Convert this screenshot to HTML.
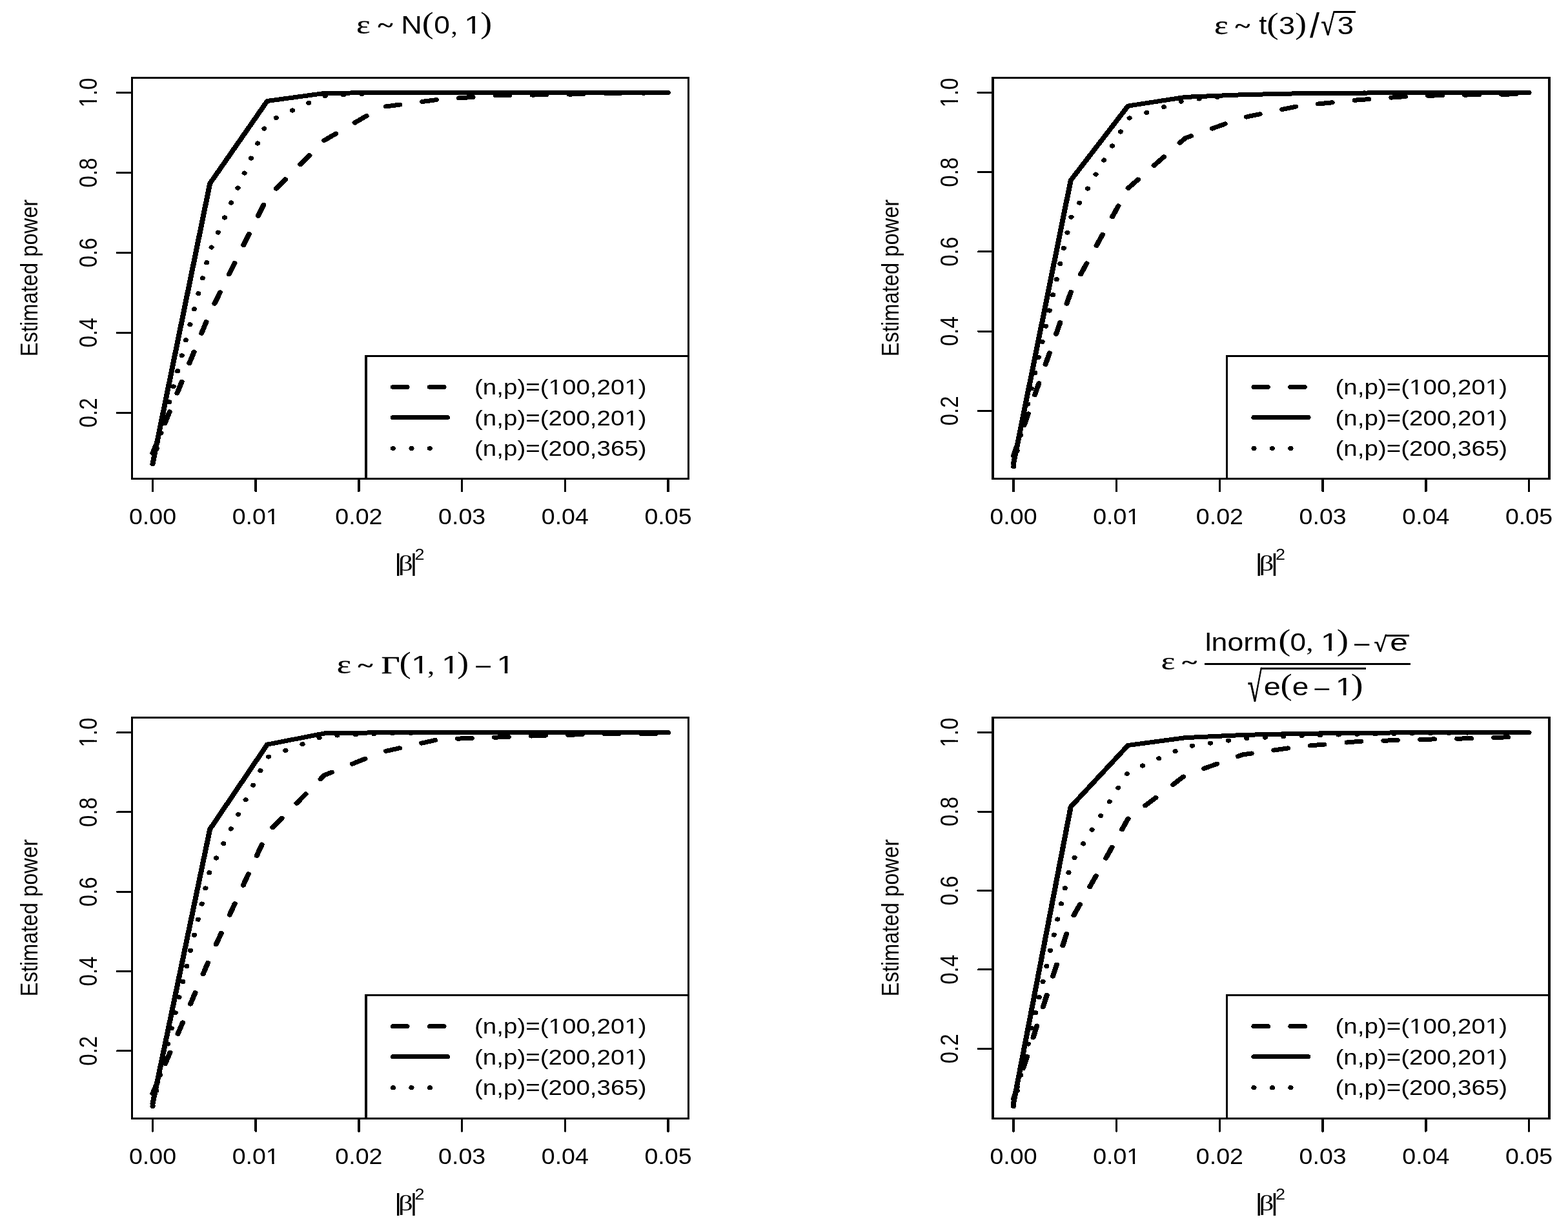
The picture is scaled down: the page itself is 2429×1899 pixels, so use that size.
<!DOCTYPE html>
<html lang="en"><head><meta charset="utf-8"><title>Estimated power</title>
<style>html,body{margin:0;padding:0;background:#fff}body{width:2429px;height:1899px;overflow:hidden}svg{display:block}</style>
</head><body>
<svg width="2429" height="1899" viewBox="0 0 2429 1899" role="img" aria-label="Estimated power curves for four error distributions">
<rect width="2429" height="1899" fill="#fff"/>
<defs><clipPath id="c1" clipPathUnits="userSpaceOnUse"><rect x="-34.00" y="-51.00" width="303.31" height="47.12"/><rect x="-34.00" y="-3.88" width="136.75" height="14.08"/><rect x="109.64" y="-3.88" width="3.00" height="14.08"/><rect x="119.26" y="-3.88" width="87.49" height="14.08"/><rect x="213.63" y="-3.88" width="3.00" height="14.08"/><rect x="223.25" y="-3.88" width="46.06" height="14.08"/><rect x="-34.00" y="10.20" width="303.31" height="34.00"/></clipPath><clipPath id="c2" clipPathUnits="userSpaceOnUse"><rect x="-34.00" y="-51.00" width="303.31" height="47.12"/><rect x="-34.00" y="-3.88" width="240.75" height="14.08"/><rect x="213.63" y="-3.88" width="3.00" height="14.08"/><rect x="223.25" y="-3.88" width="46.06" height="14.08"/><rect x="-34.00" y="10.20" width="303.31" height="34.00"/></clipPath><clipPath id="c3" clipPathUnits="userSpaceOnUse"><rect x="-67.48" y="-51.30" width="134.96" height="47.40"/><rect x="-67.48" y="-3.90" width="83.42" height="14.16"/><rect x="22.86" y="-3.90" width="3.02" height="14.16"/><rect x="32.54" y="-3.90" width="34.94" height="14.16"/><rect x="-67.48" y="10.26" width="134.96" height="34.20"/></clipPath><clipPath id="c4" clipPathUnits="userSpaceOnUse"><rect x="-55.94" y="-49.50" width="111.87" height="45.73"/><rect x="-55.94" y="-3.77" width="34.62" height="13.67"/><rect x="-14.64" y="-3.77" width="2.92" height="13.67"/><rect x="-5.30" y="-3.77" width="61.24" height="13.67"/><rect x="-55.94" y="9.90" width="111.87" height="33.00"/></clipPath><clipPath id="c5" clipPathUnits="userSpaceOnUse"><rect x="-100.00" y="-150.00" width="255.62" height="138.59"/><rect x="-100.00" y="-11.41" width="104.90" height="41.41"/><rect x="25.15" y="-11.41" width="8.84" height="41.41"/><rect x="53.45" y="-11.41" width="102.17" height="41.41"/><rect x="-100.00" y="30.00" width="255.62" height="100.00"/></clipPath></defs>
<g transform="scale(1.15667 1)" stroke="#000" fill="#000" shape-rendering="crispEdges" font-family='"Liberation Sans", sans-serif'>
<g stroke="none">
</g>
<g>
<polyline points="204.47,702 281.17,484.43 357.88,305.9 434.58,217.26 511.29,165.82 587.99,154.04 664.7,147.84 741.4,146.6 818.11,144.74 894.81,143.5" fill="none" stroke-width="7" stroke-linecap="round" stroke-linejoin="round" stroke-dasharray="18.7 30.56"/>
<polyline points="204.47,718.3 281.17,284.21 357.88,156.52 434.58,144.43 511.29,143.5 587.99,143.5 664.7,143.5 741.4,143.5 818.11,143.5 894.81,143.5" fill="none" stroke-width="7" stroke-linecap="round" stroke-linejoin="round"/>
<polyline points="204.47,718.73 281.17,388.35 357.88,188.75 434.58,148.46 511.29,143.81 587.99,143.5 664.7,143.5 741.4,143.5 818.11,143.5 894.81,143.5" fill="none" stroke-width="7" stroke-linecap="round" stroke-linejoin="round" stroke-dasharray="0.1 24.53"/>
<rect x="490.2" y="551.5" width="431.84" height="189.8" fill="#fff" stroke-width="3"/>
<line x1="526.43" y1="599.5" x2="599.14" y2="599.5" stroke-width="7" stroke-linecap="round" stroke-dasharray="18.7 30.56"/>
<line x1="526.43" y1="646.6" x2="599.14" y2="646.6" stroke-width="7" stroke-linecap="round"/>
<line x1="526.43" y1="694.5" x2="599.14" y2="694.5" stroke-width="7" stroke-linecap="round" stroke-dasharray="0.1 24.53"/>
<text stroke="none" transform="translate(635.45 611.2) scale(0.98 1)" font-size="34" text-anchor="start" clip-path="url(#c1)">(n,p)=(100,201)</text>
<text stroke="none" transform="translate(635.45 658.5) scale(0.98 1)" font-size="34" text-anchor="start" clip-path="url(#c2)">(n,p)=(200,201)</text>
<text stroke="none" transform="translate(635.45 705.9) scale(0.98 1)" font-size="34" text-anchor="start">(n,p)=(200,365)</text>
<rect x="176.8" y="120.5" width="745.24" height="620.8" fill="none" stroke-width="3"/>
<line x1="204.47" y1="743.3" x2="204.47" y2="761" stroke-width="3" stroke-linecap="round"/>
<text stroke="none" transform="translate(204.47 812.2) scale(0.95 1)" font-size="34.2" text-anchor="middle">0.00</text>
<line x1="342.54" y1="743.3" x2="342.54" y2="761" stroke-width="3" stroke-linecap="round"/>
<text stroke="none" transform="translate(342.54 812.2) scale(0.95 1)" font-size="34.2" text-anchor="middle" clip-path="url(#c3)">0.01</text>
<line x1="480.61" y1="743.3" x2="480.61" y2="761" stroke-width="3" stroke-linecap="round"/>
<text stroke="none" transform="translate(480.61 812.2) scale(0.95 1)" font-size="34.2" text-anchor="middle">0.02</text>
<line x1="618.67" y1="743.3" x2="618.67" y2="761" stroke-width="3" stroke-linecap="round"/>
<text stroke="none" transform="translate(618.67 812.2) scale(0.95 1)" font-size="34.2" text-anchor="middle">0.03</text>
<line x1="756.74" y1="743.3" x2="756.74" y2="761" stroke-width="3" stroke-linecap="round"/>
<text stroke="none" transform="translate(756.74 812.2) scale(0.95 1)" font-size="34.2" text-anchor="middle">0.04</text>
<line x1="894.81" y1="743.3" x2="894.81" y2="761" stroke-width="3" stroke-linecap="round"/>
<text stroke="none" transform="translate(894.81 812.2) scale(0.95 1)" font-size="34.2" text-anchor="middle">0.05</text>
<line x1="175.07" y1="639.39" x2="157.09" y2="639.39" stroke-width="3" stroke-linecap="round"/>
<text stroke="none" transform="translate(129.94 639.39) rotate(-90)" font-size="33" text-anchor="middle">0.2</text>
<line x1="175.07" y1="515.42" x2="157.09" y2="515.42" stroke-width="3" stroke-linecap="round"/>
<text stroke="none" transform="translate(129.94 515.42) rotate(-90)" font-size="33" text-anchor="middle">0.4</text>
<line x1="175.07" y1="391.45" x2="157.09" y2="391.45" stroke-width="3" stroke-linecap="round"/>
<text stroke="none" transform="translate(129.94 391.45) rotate(-90)" font-size="33" text-anchor="middle">0.6</text>
<line x1="175.07" y1="267.47" x2="157.09" y2="267.47" stroke-width="3" stroke-linecap="round"/>
<text stroke="none" transform="translate(129.94 267.47) rotate(-90)" font-size="33" text-anchor="middle">0.8</text>
<line x1="175.07" y1="143.5" x2="157.09" y2="143.5" stroke-width="3" stroke-linecap="round"/>
<text stroke="none" transform="translate(129.94 143.5) rotate(-90)" font-size="33" text-anchor="middle" clip-path="url(#c4)">1.0</text>
<text stroke="none" transform="translate(50.14 430.5) rotate(-90)" font-size="32.7" text-anchor="middle">Estimated power</text>
<text stroke="none" transform="translate(528.37 884.28) scale(0.3627 0.3641)" font-size="100" font-family='"Liberation Sans", sans-serif'>|</text>
<text stroke="none" transform="translate(533.43 883.78) scale(0.3894 0.3392)" font-size="100" font-family='"Liberation Serif", serif'>β</text>
<text stroke="none" transform="translate(549.47 884.28) scale(0.3627 0.3641)" font-size="100" font-family='"Liberation Sans", sans-serif'>|</text>
<text stroke="none" transform="translate(555.51 866.90) scale(0.2334 0.2306)" font-size="100" font-family='"Liberation Sans", sans-serif'>2</text>
<text transform="translate(477.28 51.78) scale(0.4427 0.4023)" font-size="100" font-family='"Liberation Serif", serif' stroke-width="0.62" stroke-linejoin="round">ε</text>
<text transform="translate(505.77 49.98) scale(0.3855 0.3274)" font-size="100" font-family='"Liberation Serif", serif' stroke-width="2.75" stroke-linejoin="round">~</text>
<text stroke="none" transform="translate(537.06 52.00) scale(0.3900 0.3910)" font-size="100" font-family='"Liberation Sans", sans-serif'>N</text>
<text stroke="none" transform="translate(565.19 51.09) scale(0.4645 0.4610)" font-size="100" font-family='"Liberation Serif", serif'>(</text>
<text stroke="none" transform="translate(581.30 51.92) scale(0.3834 0.3884)" font-size="100" font-family='"Liberation Sans", sans-serif'>0</text>
<text stroke="none" transform="translate(603.93 52.57) scale(0.3541 0.3660)" font-size="100" font-family='"Liberation Serif", serif'>,</text>
<text stroke="none" transform="translate(621.63 52.00) scale(0.4293 0.3910)" font-size="100" font-family='"Liberation Sans", sans-serif' clip-path="url(#c5)">1</text>
<text stroke="none" transform="translate(643.46 51.09) scale(0.4645 0.4610)" font-size="100" font-family='"Liberation Serif", serif'>)</text>
</g>
<g>
<polyline points="1357.35,705.98 1434.05,452.77 1510.76,291.67 1587.46,213.86 1664.17,182.31 1740.87,163.83 1817.58,154.9 1894.28,148.61 1970.99,146.89 2047.69,145.53" fill="none" stroke-width="7" stroke-linecap="round" stroke-linejoin="round" stroke-dasharray="18.7 30.56"/>
<polyline points="1357.35,718.3 1434.05,279.28 1510.76,164.08 1587.46,150.4 1664.17,146.7 1740.87,144.73 1817.58,144.12 1894.28,143.5 1970.99,143.5 2047.69,143.5" fill="none" stroke-width="7" stroke-linecap="round" stroke-linejoin="round"/>
<polyline points="1357.35,722.61 1434.05,337.38 1510.76,183.73 1587.46,155.02 1664.17,146.89 1740.87,144.73 1817.58,143.81 1894.28,143.5 1970.99,143.5 2047.69,143.5" fill="none" stroke-width="7" stroke-linecap="round" stroke-linejoin="round" stroke-dasharray="0.1 24.53"/>
<rect x="1643.08" y="551.5" width="431.84" height="189.8" fill="#fff" stroke-width="3"/>
<line x1="1679.31" y1="599.5" x2="1752.02" y2="599.5" stroke-width="7" stroke-linecap="round" stroke-dasharray="18.7 30.56"/>
<line x1="1679.31" y1="646.6" x2="1752.02" y2="646.6" stroke-width="7" stroke-linecap="round"/>
<line x1="1679.31" y1="694.5" x2="1752.02" y2="694.5" stroke-width="7" stroke-linecap="round" stroke-dasharray="0.1 24.53"/>
<text stroke="none" transform="translate(1788.33 611.2) scale(0.98 1)" font-size="34" text-anchor="start" clip-path="url(#c1)">(n,p)=(100,201)</text>
<text stroke="none" transform="translate(1788.33 658.5) scale(0.98 1)" font-size="34" text-anchor="start" clip-path="url(#c2)">(n,p)=(200,201)</text>
<text stroke="none" transform="translate(1788.33 705.9) scale(0.98 1)" font-size="34" text-anchor="start">(n,p)=(200,365)</text>
<rect x="1329.68" y="120.5" width="745.24" height="620.8" fill="none" stroke-width="3"/>
<line x1="1357.35" y1="743.3" x2="1357.35" y2="761" stroke-width="3" stroke-linecap="round"/>
<text stroke="none" transform="translate(1357.35 812.2) scale(0.95 1)" font-size="34.2" text-anchor="middle">0.00</text>
<line x1="1495.42" y1="743.3" x2="1495.42" y2="761" stroke-width="3" stroke-linecap="round"/>
<text stroke="none" transform="translate(1495.42 812.2) scale(0.95 1)" font-size="34.2" text-anchor="middle" clip-path="url(#c3)">0.01</text>
<line x1="1633.49" y1="743.3" x2="1633.49" y2="761" stroke-width="3" stroke-linecap="round"/>
<text stroke="none" transform="translate(1633.49 812.2) scale(0.95 1)" font-size="34.2" text-anchor="middle">0.02</text>
<line x1="1771.56" y1="743.3" x2="1771.56" y2="761" stroke-width="3" stroke-linecap="round"/>
<text stroke="none" transform="translate(1771.56 812.2) scale(0.95 1)" font-size="34.2" text-anchor="middle">0.03</text>
<line x1="1909.63" y1="743.3" x2="1909.63" y2="761" stroke-width="3" stroke-linecap="round"/>
<text stroke="none" transform="translate(1909.63 812.2) scale(0.95 1)" font-size="34.2" text-anchor="middle">0.04</text>
<line x1="2047.69" y1="743.3" x2="2047.69" y2="761" stroke-width="3" stroke-linecap="round"/>
<text stroke="none" transform="translate(2047.69 812.2) scale(0.95 1)" font-size="34.2" text-anchor="middle">0.05</text>
<line x1="1327.95" y1="636.36" x2="1309.97" y2="636.36" stroke-width="3" stroke-linecap="round"/>
<text stroke="none" transform="translate(1282.82 636.36) rotate(-90)" font-size="33" text-anchor="middle">0.2</text>
<line x1="1327.95" y1="513.15" x2="1309.97" y2="513.15" stroke-width="3" stroke-linecap="round"/>
<text stroke="none" transform="translate(1282.82 513.15) rotate(-90)" font-size="33" text-anchor="middle">0.4</text>
<line x1="1327.95" y1="389.93" x2="1309.97" y2="389.93" stroke-width="3" stroke-linecap="round"/>
<text stroke="none" transform="translate(1282.82 389.93) rotate(-90)" font-size="33" text-anchor="middle">0.6</text>
<line x1="1327.95" y1="266.72" x2="1309.97" y2="266.72" stroke-width="3" stroke-linecap="round"/>
<text stroke="none" transform="translate(1282.82 266.72) rotate(-90)" font-size="33" text-anchor="middle">0.8</text>
<line x1="1327.95" y1="143.5" x2="1309.97" y2="143.5" stroke-width="3" stroke-linecap="round"/>
<text stroke="none" transform="translate(1282.82 143.5) rotate(-90)" font-size="33" text-anchor="middle" clip-path="url(#c4)">1.0</text>
<text stroke="none" transform="translate(1203.03 430.5) rotate(-90)" font-size="32.7" text-anchor="middle">Estimated power</text>
<text stroke="none" transform="translate(1681.26 884.28) scale(0.3627 0.3641)" font-size="100" font-family='"Liberation Sans", sans-serif'>|</text>
<text stroke="none" transform="translate(1686.31 883.78) scale(0.3894 0.3392)" font-size="100" font-family='"Liberation Serif", serif'>β</text>
<text stroke="none" transform="translate(1702.35 884.28) scale(0.3627 0.3641)" font-size="100" font-family='"Liberation Sans", sans-serif'>|</text>
<text stroke="none" transform="translate(1708.39 866.90) scale(0.2334 0.2306)" font-size="100" font-family='"Liberation Sans", sans-serif'>2</text>
<text transform="translate(1626.26 52.68) scale(0.4451 0.4065)" font-size="100" font-family='"Liberation Serif", serif' stroke-width="0.62" stroke-linejoin="round">ε</text>
<text transform="translate(1653.91 50.84) scale(0.3820 0.3096)" font-size="100" font-family='"Liberation Serif", serif' stroke-width="2.91" stroke-linejoin="round">~</text>
<text stroke="none" transform="translate(1686.17 53.08) scale(0.3792 0.4142)" font-size="100" font-family='"Liberation Sans", sans-serif'>t</text>
<text stroke="none" transform="translate(1696.57 52.22) scale(0.4780 0.4643)" font-size="100" font-family='"Liberation Serif", serif'>(</text>
<text stroke="none" transform="translate(1712.58 53.02) scale(0.3902 0.3898)" font-size="100" font-family='"Liberation Sans", sans-serif'>3</text>
<text stroke="none" transform="translate(1734.45 52.22) scale(0.4612 0.4643)" font-size="100" font-family='"Liberation Serif", serif'>)</text>
<text stroke="none" transform="translate(1754.18 58.47) scale(0.4668 0.5447)" font-size="100" font-family='"Liberation Sans", sans-serif'>/</text>
<text transform="translate(1769.22 54.04) scale(0.3306 0.4600)" font-size="100" font-family='"Liberation Serif", serif' stroke-width="1.96" stroke-linejoin="round">√</text>
<line x1="1786.25" y1="18.6" x2="1815.91" y2="18.6" stroke-width="3"/>
<text stroke="none" transform="translate(1791.15 53.02) scale(0.3939 0.3898)" font-size="100" font-family='"Liberation Sans", sans-serif'>3</text>
</g>
<g>
<polyline points="204.47,1693.97 281.17,1483.64 357.88,1290.19 434.58,1200.64 511.29,1164.9 587.99,1145.12 664.7,1142.1 741.4,1138.71 818.11,1136.8 894.81,1136.67" fill="none" stroke-width="7" stroke-linecap="round" stroke-linejoin="round" stroke-dasharray="18.7 30.56"/>
<polyline points="204.47,1709.5 281.17,1284.39 357.88,1153.19 434.58,1135.93 511.29,1134.7 587.99,1134.7 664.7,1134.7 741.4,1134.7 818.11,1134.7 894.81,1134.7" fill="none" stroke-width="7" stroke-linecap="round" stroke-linejoin="round"/>
<polyline points="204.47,1713.44 281.17,1348.12 357.88,1173.03 434.58,1139.88 511.29,1136.24 587.99,1134.7 664.7,1134.7 741.4,1134.7 818.11,1134.7 894.81,1134.7" fill="none" stroke-width="7" stroke-linecap="round" stroke-linejoin="round" stroke-dasharray="0.1 24.53"/>
<rect x="490.2" y="1541.7" width="431.84" height="190.8" fill="#fff" stroke-width="3"/>
<line x1="526.43" y1="1589.7" x2="599.14" y2="1589.7" stroke-width="7" stroke-linecap="round" stroke-dasharray="18.7 30.56"/>
<line x1="526.43" y1="1636.8" x2="599.14" y2="1636.8" stroke-width="7" stroke-linecap="round"/>
<line x1="526.43" y1="1684.7" x2="599.14" y2="1684.7" stroke-width="7" stroke-linecap="round" stroke-dasharray="0.1 24.53"/>
<text stroke="none" transform="translate(635.45 1601.4) scale(0.98 1)" font-size="34" text-anchor="start" clip-path="url(#c1)">(n,p)=(100,201)</text>
<text stroke="none" transform="translate(635.45 1648.7) scale(0.98 1)" font-size="34" text-anchor="start" clip-path="url(#c2)">(n,p)=(200,201)</text>
<text stroke="none" transform="translate(635.45 1696.1) scale(0.98 1)" font-size="34" text-anchor="start">(n,p)=(200,365)</text>
<rect x="176.8" y="1111.7" width="745.24" height="620.8" fill="none" stroke-width="3"/>
<line x1="204.47" y1="1734.5" x2="204.47" y2="1752.2" stroke-width="3" stroke-linecap="round"/>
<text stroke="none" transform="translate(204.47 1803.4) scale(0.95 1)" font-size="34.2" text-anchor="middle">0.00</text>
<line x1="342.54" y1="1734.5" x2="342.54" y2="1752.2" stroke-width="3" stroke-linecap="round"/>
<text stroke="none" transform="translate(342.54 1803.4) scale(0.95 1)" font-size="34.2" text-anchor="middle" clip-path="url(#c3)">0.01</text>
<line x1="480.61" y1="1734.5" x2="480.61" y2="1752.2" stroke-width="3" stroke-linecap="round"/>
<text stroke="none" transform="translate(480.61 1803.4) scale(0.95 1)" font-size="34.2" text-anchor="middle">0.02</text>
<line x1="618.67" y1="1734.5" x2="618.67" y2="1752.2" stroke-width="3" stroke-linecap="round"/>
<text stroke="none" transform="translate(618.67 1803.4) scale(0.95 1)" font-size="34.2" text-anchor="middle">0.03</text>
<line x1="756.74" y1="1734.5" x2="756.74" y2="1752.2" stroke-width="3" stroke-linecap="round"/>
<text stroke="none" transform="translate(756.74 1803.4) scale(0.95 1)" font-size="34.2" text-anchor="middle">0.04</text>
<line x1="894.81" y1="1734.5" x2="894.81" y2="1752.2" stroke-width="3" stroke-linecap="round"/>
<text stroke="none" transform="translate(894.81 1803.4) scale(0.95 1)" font-size="34.2" text-anchor="middle">0.05</text>
<line x1="175.07" y1="1627.72" x2="157.09" y2="1627.72" stroke-width="3" stroke-linecap="round"/>
<text stroke="none" transform="translate(129.94 1627.72) rotate(-90)" font-size="33" text-anchor="middle">0.2</text>
<line x1="175.07" y1="1504.47" x2="157.09" y2="1504.47" stroke-width="3" stroke-linecap="round"/>
<text stroke="none" transform="translate(129.94 1504.47) rotate(-90)" font-size="33" text-anchor="middle">0.4</text>
<line x1="175.07" y1="1381.21" x2="157.09" y2="1381.21" stroke-width="3" stroke-linecap="round"/>
<text stroke="none" transform="translate(129.94 1381.21) rotate(-90)" font-size="33" text-anchor="middle">0.6</text>
<line x1="175.07" y1="1257.96" x2="157.09" y2="1257.96" stroke-width="3" stroke-linecap="round"/>
<text stroke="none" transform="translate(129.94 1257.96) rotate(-90)" font-size="33" text-anchor="middle">0.8</text>
<line x1="175.07" y1="1134.7" x2="157.09" y2="1134.7" stroke-width="3" stroke-linecap="round"/>
<text stroke="none" transform="translate(129.94 1134.7) rotate(-90)" font-size="33" text-anchor="middle" clip-path="url(#c4)">1.0</text>
<text stroke="none" transform="translate(50.14 1421.7) rotate(-90)" font-size="32.7" text-anchor="middle">Estimated power</text>
<text stroke="none" transform="translate(528.37 1875.48) scale(0.3627 0.3641)" font-size="100" font-family='"Liberation Sans", sans-serif'>|</text>
<text stroke="none" transform="translate(533.43 1874.98) scale(0.3894 0.3392)" font-size="100" font-family='"Liberation Serif", serif'>β</text>
<text stroke="none" transform="translate(549.47 1875.48) scale(0.3627 0.3641)" font-size="100" font-family='"Liberation Sans", sans-serif'>|</text>
<text stroke="none" transform="translate(555.51 1858.10) scale(0.2334 0.2306)" font-size="100" font-family='"Liberation Sans", sans-serif'>2</text>
<text transform="translate(451.11 1042.78) scale(0.4574 0.4023)" font-size="100" font-family='"Liberation Serif", serif' stroke-width="0.62" stroke-linejoin="round">ε</text>
<text transform="translate(478.88 1040.59) scale(0.3855 0.3036)" font-size="100" font-family='"Liberation Serif", serif' stroke-width="2.96" stroke-linejoin="round">~</text>
<text transform="translate(510.80 1042.55) scale(0.4280 0.3864)" font-size="100" font-family='"Liberation Serif", serif' stroke-width="1.81" stroke-linejoin="round">Γ</text>
<text stroke="none" transform="translate(534.63 1042.06) scale(0.4746 0.4621)" font-size="100" font-family='"Liberation Serif", serif'>(</text>
<text stroke="none" transform="translate(550.79 1042.90) scale(0.4329 0.3910)" font-size="100" font-family='"Liberation Sans", sans-serif' clip-path="url(#c5)">1</text>
<text stroke="none" transform="translate(572.32 1043.59) scale(0.3890 0.3777)" font-size="100" font-family='"Liberation Serif", serif'>,</text>
<text stroke="none" transform="translate(591.25 1042.90) scale(0.4329 0.3910)" font-size="100" font-family='"Liberation Sans", sans-serif' clip-path="url(#c5)">1</text>
<text stroke="none" transform="translate(612.25 1042.06) scale(0.4645 0.4621)" font-size="100" font-family='"Liberation Serif", serif'>)</text>
<text stroke="none" transform="translate(635.15 1049.73) scale(0.4236 0.5220)" font-size="100" font-family='"Liberation Serif", serif'>−</text>
<text stroke="none" transform="translate(665.00 1042.90) scale(0.4329 0.3910)" font-size="100" font-family='"Liberation Sans", sans-serif' clip-path="url(#c5)">1</text>
</g>
<g>
<polyline points="1357.35,1701.97 1434.05,1426.2 1510.76,1268.12 1587.46,1200.8 1664.17,1168.97 1740.87,1156.3 1817.58,1148.65 1894.28,1145.59 1970.99,1143.7 2047.69,1140.64" fill="none" stroke-width="7" stroke-linecap="round" stroke-linejoin="round" stroke-dasharray="18.7 30.56"/>
<polyline points="1357.35,1709.5 1434.05,1249.7 1510.76,1154.47 1587.46,1142.66 1664.17,1138.49 1740.87,1136.29 1817.58,1135.43 1894.28,1134.7 1970.99,1134.7 2047.69,1134.7" fill="none" stroke-width="7" stroke-linecap="round" stroke-linejoin="round"/>
<polyline points="1357.35,1713.6 1434.05,1337.83 1510.76,1196.02 1587.46,1156.73 1664.17,1143.94 1740.87,1139.6 1817.58,1137.39 1894.28,1136.05 1970.99,1135.01 2047.69,1134.7" fill="none" stroke-width="7" stroke-linecap="round" stroke-linejoin="round" stroke-dasharray="0.1 24.53"/>
<rect x="1643.08" y="1541.7" width="431.84" height="190.8" fill="#fff" stroke-width="3"/>
<line x1="1679.31" y1="1589.7" x2="1752.02" y2="1589.7" stroke-width="7" stroke-linecap="round" stroke-dasharray="18.7 30.56"/>
<line x1="1679.31" y1="1636.8" x2="1752.02" y2="1636.8" stroke-width="7" stroke-linecap="round"/>
<line x1="1679.31" y1="1684.7" x2="1752.02" y2="1684.7" stroke-width="7" stroke-linecap="round" stroke-dasharray="0.1 24.53"/>
<text stroke="none" transform="translate(1788.33 1601.4) scale(0.98 1)" font-size="34" text-anchor="start" clip-path="url(#c1)">(n,p)=(100,201)</text>
<text stroke="none" transform="translate(1788.33 1648.7) scale(0.98 1)" font-size="34" text-anchor="start" clip-path="url(#c2)">(n,p)=(200,201)</text>
<text stroke="none" transform="translate(1788.33 1696.1) scale(0.98 1)" font-size="34" text-anchor="start">(n,p)=(200,365)</text>
<rect x="1329.68" y="1111.7" width="745.24" height="620.8" fill="none" stroke-width="3"/>
<line x1="1357.35" y1="1734.5" x2="1357.35" y2="1752.2" stroke-width="3" stroke-linecap="round"/>
<text stroke="none" transform="translate(1357.35 1803.4) scale(0.95 1)" font-size="34.2" text-anchor="middle">0.00</text>
<line x1="1495.42" y1="1734.5" x2="1495.42" y2="1752.2" stroke-width="3" stroke-linecap="round"/>
<text stroke="none" transform="translate(1495.42 1803.4) scale(0.95 1)" font-size="34.2" text-anchor="middle" clip-path="url(#c3)">0.01</text>
<line x1="1633.49" y1="1734.5" x2="1633.49" y2="1752.2" stroke-width="3" stroke-linecap="round"/>
<text stroke="none" transform="translate(1633.49 1803.4) scale(0.95 1)" font-size="34.2" text-anchor="middle">0.02</text>
<line x1="1771.56" y1="1734.5" x2="1771.56" y2="1752.2" stroke-width="3" stroke-linecap="round"/>
<text stroke="none" transform="translate(1771.56 1803.4) scale(0.95 1)" font-size="34.2" text-anchor="middle">0.03</text>
<line x1="1909.63" y1="1734.5" x2="1909.63" y2="1752.2" stroke-width="3" stroke-linecap="round"/>
<text stroke="none" transform="translate(1909.63 1803.4) scale(0.95 1)" font-size="34.2" text-anchor="middle">0.04</text>
<line x1="2047.69" y1="1734.5" x2="2047.69" y2="1752.2" stroke-width="3" stroke-linecap="round"/>
<text stroke="none" transform="translate(2047.69 1803.4) scale(0.95 1)" font-size="34.2" text-anchor="middle">0.05</text>
<line x1="1327.95" y1="1624.31" x2="1309.97" y2="1624.31" stroke-width="3" stroke-linecap="round"/>
<text stroke="none" transform="translate(1282.82 1624.31) rotate(-90)" font-size="33" text-anchor="middle">0.2</text>
<line x1="1327.95" y1="1501.91" x2="1309.97" y2="1501.91" stroke-width="3" stroke-linecap="round"/>
<text stroke="none" transform="translate(1282.82 1501.91) rotate(-90)" font-size="33" text-anchor="middle">0.4</text>
<line x1="1327.95" y1="1379.5" x2="1309.97" y2="1379.5" stroke-width="3" stroke-linecap="round"/>
<text stroke="none" transform="translate(1282.82 1379.5) rotate(-90)" font-size="33" text-anchor="middle">0.6</text>
<line x1="1327.95" y1="1257.1" x2="1309.97" y2="1257.1" stroke-width="3" stroke-linecap="round"/>
<text stroke="none" transform="translate(1282.82 1257.1) rotate(-90)" font-size="33" text-anchor="middle">0.8</text>
<line x1="1327.95" y1="1134.7" x2="1309.97" y2="1134.7" stroke-width="3" stroke-linecap="round"/>
<text stroke="none" transform="translate(1282.82 1134.7) rotate(-90)" font-size="33" text-anchor="middle" clip-path="url(#c4)">1.0</text>
<text stroke="none" transform="translate(1203.03 1421.7) rotate(-90)" font-size="32.7" text-anchor="middle">Estimated power</text>
<text stroke="none" transform="translate(1681.26 1875.48) scale(0.3627 0.3641)" font-size="100" font-family='"Liberation Sans", sans-serif'>|</text>
<text stroke="none" transform="translate(1686.31 1874.98) scale(0.3894 0.3392)" font-size="100" font-family='"Liberation Serif", serif'>β</text>
<text stroke="none" transform="translate(1702.35 1875.48) scale(0.3627 0.3641)" font-size="100" font-family='"Liberation Sans", sans-serif'>|</text>
<text stroke="none" transform="translate(1708.39 1858.10) scale(0.2334 0.2306)" font-size="100" font-family='"Liberation Sans", sans-serif'>2</text>
<text transform="translate(1555.03 1037.29) scale(0.4427 0.3898)" font-size="100" font-family='"Liberation Serif", serif' stroke-width="0.64" stroke-linejoin="round">ε</text>
<text transform="translate(1582.84 1035.46) scale(0.3838 0.2739)" font-size="100" font-family='"Liberation Serif", serif' stroke-width="3.29" stroke-linejoin="round">~</text>
<line x1="1612.82" y1="1028.3" x2="1889.14" y2="1028.3" stroke-width="3"/>
<text stroke="none" transform="translate(1613.85 1008.03) scale(0.3860 0.3826)" font-size="100" font-family='"Liberation Sans", sans-serif'>lnorm</text>
<text stroke="none" transform="translate(1711.98 1007.47) scale(0.4948 0.4665)" font-size="100" font-family='"Liberation Serif", serif'>(</text>
<text stroke="none" transform="translate(1727.70 1008.21) scale(0.3816 0.3955)" font-size="100" font-family='"Liberation Sans", sans-serif'>0</text>
<text stroke="none" transform="translate(1749.15 1008.29) scale(0.3890 0.3777)" font-size="100" font-family='"Liberation Serif", serif'>,</text>
<text stroke="none" transform="translate(1768.57 1008.00) scale(0.4364 0.3910)" font-size="100" font-family='"Liberation Sans", sans-serif' clip-path="url(#c5)">1</text>
<text stroke="none" transform="translate(1790.26 1007.47) scale(0.4746 0.4665)" font-size="100" font-family='"Liberation Serif", serif'>)</text>
<text stroke="none" transform="translate(1811.76 1015.53) scale(0.4329 0.5220)" font-size="100" font-family='"Liberation Serif", serif'>−</text>
<text transform="translate(1840.45 1009.23) scale(0.2992 0.3284)" font-size="100" font-family='"Liberation Serif", serif' stroke-width="2.74" stroke-linejoin="round">√</text>
<line x1="1855.85" y1="984.1" x2="1887.23" y2="984.1" stroke-width="3"/>
<text stroke="none" transform="translate(1861.63 1008.23) scale(0.4293 0.3760)" font-size="100" font-family='"Liberation Sans", sans-serif'>e</text>
<text transform="translate(1670.97 1086.00) scale(0.3472 0.6543)" font-size="100" font-family='"Liberation Serif", serif' stroke-width="1.38" stroke-linejoin="round">√</text>
<line x1="1688.82" y1="1035.5" x2="1828.96" y2="1035.5" stroke-width="3"/>
<text stroke="none" transform="translate(1692.63 1076.52) scale(0.4053 0.3851)" font-size="100" font-family='"Liberation Sans", sans-serif'>e</text>
<text stroke="none" transform="translate(1714.92 1076.27) scale(0.4746 0.4665)" font-size="100" font-family='"Liberation Serif", serif'>(</text>
<text stroke="none" transform="translate(1730.70 1076.52) scale(0.3980 0.3851)" font-size="100" font-family='"Liberation Sans", sans-serif'>e</text>
<text stroke="none" transform="translate(1758.48 1084.73) scale(0.4217 0.5220)" font-size="100" font-family='"Liberation Serif", serif'>−</text>
<text stroke="none" transform="translate(1788.50 1076.50) scale(0.4222 0.3910)" font-size="100" font-family='"Liberation Sans", sans-serif' clip-path="url(#c5)">1</text>
<text stroke="none" transform="translate(1809.22 1076.27) scale(0.4915 0.4665)" font-size="100" font-family='"Liberation Serif", serif'>)</text>
</g>
</g></svg></body></html>
